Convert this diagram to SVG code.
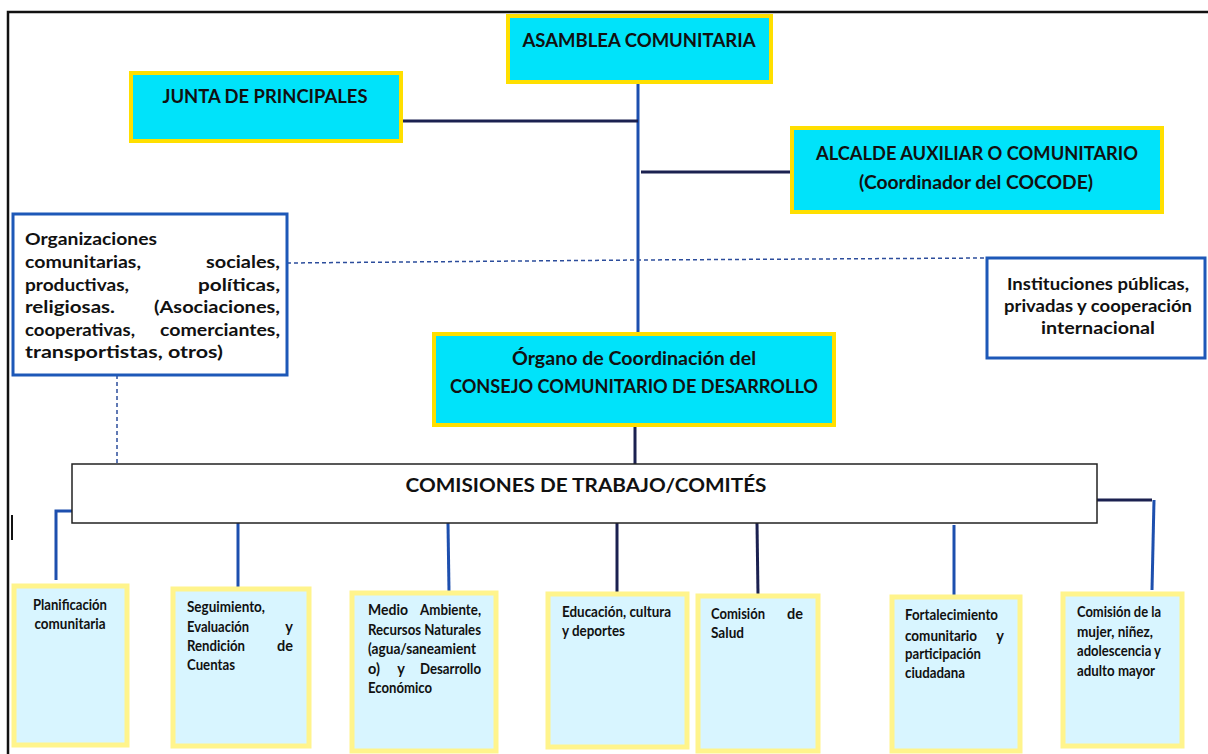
<svg xmlns="http://www.w3.org/2000/svg" width="1208" height="754" viewBox="0 0 1208 754">
<style>
.bg{fill:#ffffff}
.frame{stroke:#111;stroke-width:2.5;fill:none}
.cyan{fill:#00e3fa;stroke:#ffdf00;stroke-width:4}
.blue{fill:#fff;stroke:#1d58b8;stroke-width:3}
.com{fill:#fff;stroke:#222;stroke-width:1.5}
.pale{fill:#d8f5ff;stroke:#fff48c;stroke-width:5}
.t{font-family:Lato,"Open Sans","Liberation Sans",sans-serif;font-weight:bold;fill:#111}
.big{font-size:18.5px}
.mid{font-size:17.5px}
.sm{font-size:14.5px}
.c{text-anchor:middle}
.e{text-anchor:end}
.ln{fill:none;stroke-width:3}
.lb{stroke:#1d4fae}
.ld{stroke:#1b2150}
.dash{fill:none;stroke:#2c4d9c;stroke-width:1.5;stroke-dasharray:4 3}
</style>
<rect class="bg" x="0" y="0" width="1208" height="754"/>
<g id="frame">
<path class="frame" d="M8 754 V12 H1208"/>
<line x1="12" y1="515" x2="12" y2="540" stroke="#111" stroke-width="2"/>
</g>
<g id="connectors">
<line class="ln lb" x1="638" y1="82" x2="638" y2="334"/>
<line class="ln ld" x1="401" y1="121" x2="638" y2="121" stroke-width="2.5"/>
<line class="ln ld" x1="641" y1="172" x2="792" y2="172" stroke-width="2.5"/>
<line class="ln ld" x1="635" y1="425" x2="635" y2="464"/>
<polyline class="dash" points="287,263 640,260 987,258"/>
<line class="dash" x1="117" y1="375" x2="117" y2="464"/>
<polyline class="ln lb" points="72,511 56,511 56,580"/>
<line class="ln lb" x1="238" y1="523" x2="238" y2="588"/>
<line class="ln lb" x1="448" y1="523" x2="449" y2="592"/>
<line class="ln ld" x1="617" y1="523" x2="617" y2="593"/>
<line class="ln ld" x1="757" y1="523" x2="758" y2="595"/>
<line class="ln lb" x1="954" y1="525" x2="954" y2="596"/>
<polyline class="ln ld" points="1097,500 1152,500" stroke-width="2.5"/>
<line class="ln lb" x1="1154" y1="500" x2="1152" y2="590"/>
</g>
<g id="asamblea">
<rect class="cyan" x="508" y="16" width="263" height="66"/>
<text class="t big c" x="639" y="47" textLength="233" lengthAdjust="spacingAndGlyphs">ASAMBLEA COMUNITARIA</text>
</g>
<g id="junta">
<rect class="cyan" x="131" y="73" width="270" height="68"/>
<text class="t big c" x="265" y="103" textLength="205" lengthAdjust="spacingAndGlyphs">JUNTA DE PRINCIPALES</text>
</g>
<g id="alcalde">
<rect class="cyan" x="792" y="128" width="370" height="84"/>
<text class="t big c" x="977" y="160" textLength="322" lengthAdjust="spacingAndGlyphs">ALCALDE AUXILIAR O COMUNITARIO</text>
<text class="t big c" x="976" y="189" textLength="234" lengthAdjust="spacingAndGlyphs">(Coordinador del COCODE)</text>
</g>
<g id="organizaciones">
<rect class="blue" x="13" y="214" width="274" height="161"/>
<text class="t mid" x="25" y="245" textLength="132" lengthAdjust="spacingAndGlyphs">Organizaciones</text>
<text class="t mid" x="25" y="268" textLength="116" lengthAdjust="spacingAndGlyphs">comunitarias,</text><text class="t mid e" x="280" y="268" textLength="74" lengthAdjust="spacingAndGlyphs">sociales,</text>
<text class="t mid" x="25" y="291" textLength="104" lengthAdjust="spacingAndGlyphs">productivas,</text><text class="t mid e" x="280" y="291" textLength="82" lengthAdjust="spacingAndGlyphs">políticas,</text>
<text class="t mid" x="25" y="313" textLength="90" lengthAdjust="spacingAndGlyphs">religiosas.</text><text class="t mid e" x="280" y="313" textLength="126" lengthAdjust="spacingAndGlyphs">(Asociaciones,</text>
<text class="t mid" x="25" y="336" textLength="110" lengthAdjust="spacingAndGlyphs">cooperativas,</text><text class="t mid e" x="280" y="336" textLength="120" lengthAdjust="spacingAndGlyphs">comerciantes,</text>
<text class="t mid" x="25" y="358" textLength="198" lengthAdjust="spacingAndGlyphs">transportistas, otros)</text>
</g>
<g id="instituciones">
<rect class="blue" x="987" y="258" width="218" height="100"/>
<text class="t mid c" x="1098" y="290" textLength="182" lengthAdjust="spacingAndGlyphs">Instituciones públicas,</text>
<text class="t mid c" x="1098" y="312" textLength="188" lengthAdjust="spacingAndGlyphs">privadas y cooperación</text>
<text class="t mid c" x="1098" y="334" textLength="114" lengthAdjust="spacingAndGlyphs">internacional</text>
</g>
<g id="organo">
<rect class="cyan" x="434" y="334" width="400" height="91"/>
<text class="t big c" x="634" y="365" textLength="244" lengthAdjust="spacingAndGlyphs">Órgano de Coordinación del</text>
<text class="t big c" x="634" y="393" textLength="368" lengthAdjust="spacingAndGlyphs">CONSEJO COMUNITARIO DE DESARROLLO</text>
</g>
<g id="comisiones">
<rect class="com" x="72" y="464" width="1025" height="59"/>
<text class="t c" font-size="19.5" x="586" y="492" textLength="361" lengthAdjust="spacingAndGlyphs">COMISIONES DE TRABAJO/COMITÉS</text>
</g>
<g id="planificacion">
<rect class="pale" x="14" y="586" width="113" height="159"/>
<text class="t sm c" x="70" y="610" textLength="74" lengthAdjust="spacingAndGlyphs">Planificación</text>
<text class="t sm c" x="70" y="629" textLength="71" lengthAdjust="spacingAndGlyphs">comunitaria</text>
</g>
<g id="seguimiento">
<rect class="pale" x="173" y="589" width="136" height="157"/>
<text class="t sm" x="187" y="612" textLength="78" lengthAdjust="spacingAndGlyphs">Seguimiento,</text>
<text class="t sm" x="187" y="632" textLength="62" lengthAdjust="spacingAndGlyphs">Evaluación</text><text class="t sm e" x="293" y="632">y</text>
<text class="t sm" x="187" y="651" textLength="58" lengthAdjust="spacingAndGlyphs">Rendición</text><text class="t sm e" x="293" y="651">de</text>
<text class="t sm" x="187" y="670" textLength="48" lengthAdjust="spacingAndGlyphs">Cuentas</text>
</g>
<g id="medio">
<rect class="pale" x="352" y="593" width="144" height="158"/>
<text class="t sm" x="368" y="615" textLength="40" lengthAdjust="spacingAndGlyphs">Medio</text><text class="t sm e" x="481" y="615" textLength="61" lengthAdjust="spacingAndGlyphs">Ambiente,</text>
<text class="t sm" x="368" y="635" textLength="113" lengthAdjust="spacingAndGlyphs">Recursos Naturales</text>
<text class="t sm" x="368" y="654" textLength="108" lengthAdjust="spacingAndGlyphs">(agua/saneamient</text>
<text class="t sm" x="368" y="674">o)</text><text class="t sm c" x="401" y="674">y</text><text class="t sm e" x="481" y="674" textLength="61" lengthAdjust="spacingAndGlyphs">Desarrollo</text>
<text class="t sm" x="368" y="693" textLength="64" lengthAdjust="spacingAndGlyphs">Económico</text>
</g>
<g id="educacion">
<rect class="pale" x="548" y="594" width="139" height="153"/>
<text class="t sm" x="562" y="617" textLength="109" lengthAdjust="spacingAndGlyphs">Educación, cultura</text>
<text class="t sm" x="562" y="636" textLength="63" lengthAdjust="spacingAndGlyphs">y deportes</text>
</g>
<g id="salud">
<rect class="pale" x="698" y="596" width="120" height="155"/>
<text class="t sm" x="711" y="619" textLength="54" lengthAdjust="spacingAndGlyphs">Comisión</text><text class="t sm e" x="803" y="619">de</text>
<text class="t sm" x="711" y="638" textLength="33" lengthAdjust="spacingAndGlyphs">Salud</text>
</g>
<g id="fortalecimiento">
<rect class="pale" x="892" y="597" width="128" height="154"/>
<text class="t sm" x="905" y="620" textLength="93" lengthAdjust="spacingAndGlyphs">Fortalecimiento</text>
<text class="t sm" x="905" y="641" textLength="72" lengthAdjust="spacingAndGlyphs">comunitario</text><text class="t sm e" x="1004" y="641">y</text>
<text class="t sm" x="905" y="659" textLength="76" lengthAdjust="spacingAndGlyphs">participación</text>
<text class="t sm" x="905" y="678" textLength="60" lengthAdjust="spacingAndGlyphs">ciudadana</text>
</g>
<g id="mujer">
<rect class="pale" x="1063" y="594" width="119" height="152"/>
<text class="t sm" x="1077" y="617" textLength="84" lengthAdjust="spacingAndGlyphs">Comisión de la</text>
<text class="t sm" x="1077" y="637" textLength="76" lengthAdjust="spacingAndGlyphs">mujer, niñez,</text>
<text class="t sm" x="1077" y="656" textLength="84" lengthAdjust="spacingAndGlyphs">adolescencia y</text>
<text class="t sm" x="1077" y="676" textLength="78" lengthAdjust="spacingAndGlyphs">adulto mayor</text>
</g>
</svg>
